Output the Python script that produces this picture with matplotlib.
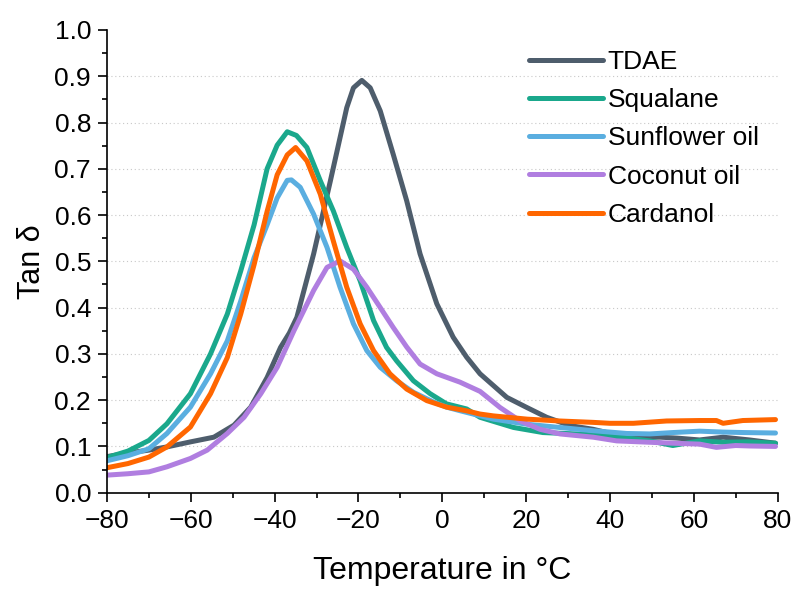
import numpy as np
import matplotlib.pyplot as plt
from matplotlib.ticker import MultipleLocator

plt.rcParams['font.family'] = ['Liberation Sans', 'DejaVu Sans']
plt.rcParams['axes.unicode_minus'] = True

# datos
t_tdae = [-80, -75, -70, -65.7, -60, -54.5, -49.7, -45.7, -41.8, -38.6, -36.5, -34.7, -33.8, -30.7, -26.7,
          -22.8, -21.2, -19.2, -17.2, -14.8, -11.7, -8.5, -5.3, -1.3, 2.6, 5.8, 9, 15.4, 20.2, 24.9, 30.5,
          36, 41.6, 47, 52, 56, 61.4, 67, 73.3, 79.5]
tan_tdae = [0.078, 0.086, 0.092, 0.099, 0.11, 0.12, 0.146, 0.185, 0.249, 0.314, 0.345, 0.379, 0.41, 0.516,
            0.674, 0.832, 0.875, 0.891, 0.875, 0.825, 0.731, 0.631, 0.516, 0.408, 0.336, 0.293, 0.257,
            0.206, 0.184, 0.163, 0.145, 0.137, 0.125, 0.12, 0.12, 0.118, 0.114, 0.12, 0.114, 0.107]

t_squa = [-80, -75, -70, -65.7, -60.1, -55.3, -51.3, -48.1, -44.9, -41.8, -39.4, -37, -34.8, -32.3, -29.1,
          -26, -22.8, -19.6, -16.4, -13.3, -10.9, -6.9, -2.9, 1, 5.8, 9, 17, 24, 32, 40, 49.5, 55, 61.4,
          67, 73, 79.5]
tan_squa = [0.076, 0.09, 0.113, 0.149, 0.214, 0.3, 0.386, 0.479, 0.579, 0.7, 0.751, 0.78, 0.772, 0.746,
            0.674, 0.609, 0.53, 0.458, 0.372, 0.314, 0.285, 0.242, 0.214, 0.192, 0.181, 0.163, 0.141,
            0.13, 0.127, 0.123, 0.112, 0.102, 0.112, 0.109, 0.11, 0.107]

t_sunf = [-80, -75, -70, -65.7, -60.1, -55.3, -51.3, -48.1, -44.9, -41.8, -39.4, -37, -36, -33.9, -30.7,
          -27.5, -24.4, -21.2, -18, -14.8, -10.9, -6.9, -2.1, 1, 4.3, 12.2, 20.2, 28, 36, 44, 49.5, 55,
          61.4, 67, 72, 79.5]
tan_sunf = [0.069, 0.08, 0.095, 0.128, 0.185, 0.257, 0.328, 0.414, 0.508, 0.579, 0.637, 0.675, 0.676, 0.66,
            0.602, 0.53, 0.444, 0.365, 0.307, 0.271, 0.242, 0.217, 0.196, 0.185, 0.177, 0.159, 0.148,
            0.141, 0.134, 0.128, 0.127, 0.13, 0.133, 0.131, 0.13, 0.129]

t_coco = [-80, -75, -70, -65.7, -60.1, -56.1, -51.3, -47.3, -43.3, -39.4, -35.4, -30.7, -27.5, -24.4, -21.2,
          -18, -14.8, -11.7, -8.5, -5.3, -1.3, 4.2, 9, 13.8, 18.6, 23.3, 28.1, 36, 41.6, 49.5, 55, 61.4,
          65.4, 70, 73.3, 79.5]
tan_coco = [0.038, 0.041, 0.045, 0.056, 0.074, 0.092, 0.128, 0.163, 0.214, 0.271, 0.35, 0.437, 0.487, 0.501,
            0.483, 0.444, 0.4, 0.357, 0.315, 0.278, 0.257, 0.239, 0.219, 0.184, 0.155, 0.137, 0.127, 0.12,
            0.112, 0.109, 0.107, 0.105, 0.098, 0.102, 0.101, 0.1]

t_card = [-80, -75, -70, -65.7, -60.1, -55.3, -51.3, -48.1, -44.9, -41.8, -39.4, -37, -35, -32.3, -29.1, -26,
          -22.8, -19.6, -16.4, -12.5, -8.5, -3.7, 1, 5.8, 9, 12.2, 20.2, 28, 36, 40, 45.6, 53.5, 61.4, 65.4,
          67, 71.7, 79.5]
tan_card = [0.054, 0.063, 0.077, 0.099, 0.142, 0.214, 0.292, 0.386, 0.493, 0.608, 0.687, 0.73, 0.746, 0.717,
            0.645, 0.544, 0.444, 0.365, 0.307, 0.257, 0.224, 0.199, 0.185, 0.177, 0.17, 0.166, 0.159,
            0.155, 0.152, 0.15, 0.15, 0.155, 0.156, 0.156, 0.15, 0.156, 0.158]

nombres = ['TDAE', 'Squalane', 'Sunflower oil', 'Coconut oil', 'Cardanol']
colores = ['#4e5d6c', '#1aa88c', '#5aaee0', '#b07ee0', '#ff6600']
series = [(t_tdae, tan_tdae), (t_squa, tan_squa), (t_sunf, tan_sunf), (t_coco, tan_coco), (t_card, tan_card)]

fig = plt.figure(figsize=(7.95, 5.9), dpi=100)
ax = fig.add_axes([0.1346, 0.1649, 0.8435, 0.7843])

# grilla punteada
for yv in np.arange(0.1, 0.95, 0.1):
    ax.axhline(yv, color='#c8c8c8', linestyle=(0, (1, 2.5)), linewidth=0.8, zorder=0)

for (t, y), nom, col in zip(series, nombres, colores):
    ax.plot(t, y, color=col, linewidth=3.6, label=nom, solid_capstyle='round', solid_joinstyle='round')

ax.set_xlim(-80, 80)
ax.set_ylim(0, 1.0)
ax.xaxis.set_major_locator(MultipleLocator(20))
ax.xaxis.set_minor_locator(MultipleLocator(10))
ax.yaxis.set_major_locator(MultipleLocator(0.1))
ax.yaxis.set_minor_locator(MultipleLocator(0.05))
ax.yaxis.set_major_formatter(plt.FormatStrFormatter('%.1f'))

ax.spines['top'].set_visible(False)
ax.spines['right'].set_visible(False)
for s in ['left', 'bottom']:
    ax.spines[s].set_linewidth(1.2)
ax.tick_params(which='major', length=6.5, width=1.2, labelsize=19, pad=5)
ax.tick_params(which='minor', length=3.6, width=1.2)

ax.set_xlabel('Temperature in °C', fontsize=23, labelpad=17)
ax.set_ylabel('Tan δ', fontsize=22, labelpad=5)

ax.legend(loc='upper left', bbox_to_anchor=(0.606, 0.991), frameon=False, fontsize=19,
          handlelength=2.78, handletextpad=0.2, labelspacing=0.54, borderaxespad=0.2)

plt.savefig('out.png', dpi=100)
